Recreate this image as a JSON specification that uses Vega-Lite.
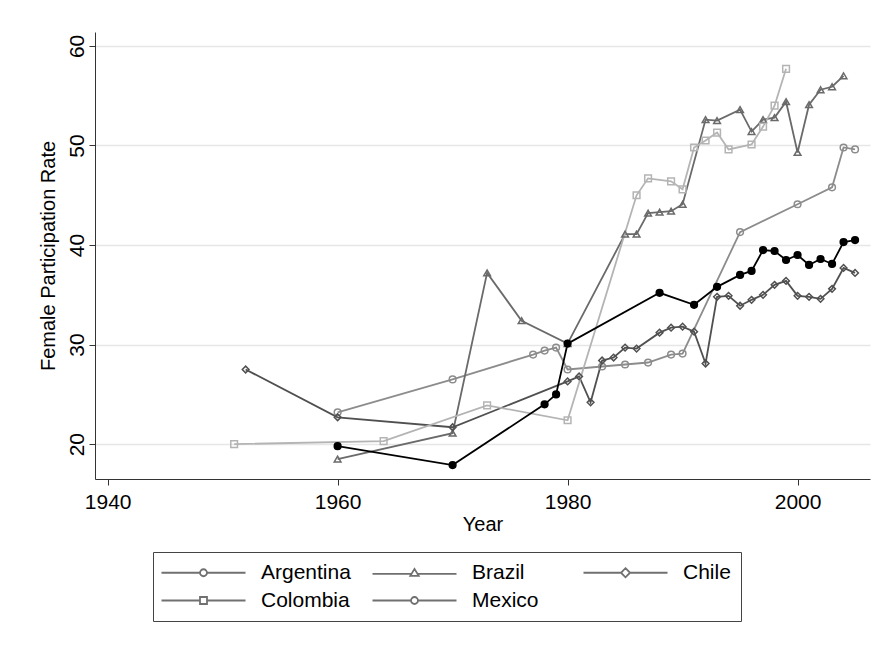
{"$schema":"https://vega.github.io/schema/vega-lite/v6.json","width":775,"height":447,"autosize":"none","padding":{"left":95,"top":32,"right":13,"bottom":170},"background":"white",
"config":{"font":"Liberation Sans","view":{"stroke":null},"axis":{"labelFont":"Liberation Sans","titleFont":"Liberation Sans","labelFontSize":21,"titleFontSize":20,"titleFontWeight":"normal","labelColor":"black","titleColor":"black","domainColor":"#333","tickColor":"#333","tickSize":6}},
"data":{"values":[
{"c":"Argentina","x":1960,"y":23.2},{"c":"Argentina","x":1970,"y":26.5},{"c":"Argentina","x":1977,"y":29.0},{"c":"Argentina","x":1978,"y":29.4},{"c":"Argentina","x":1979,"y":29.7},{"c":"Argentina","x":1980,"y":27.5},{"c":"Argentina","x":1983,"y":27.8},{"c":"Argentina","x":1985,"y":28.0},{"c":"Argentina","x":1987,"y":28.2},{"c":"Argentina","x":1989,"y":29.0},{"c":"Argentina","x":1990,"y":29.1},{"c":"Argentina","x":1995,"y":41.3},{"c":"Argentina","x":2000,"y":44.1},{"c":"Argentina","x":2003,"y":45.8},{"c":"Argentina","x":2004,"y":49.8},{"c":"Argentina","x":2005,"y":49.6},
{"c":"Brazil","x":1960,"y":18.5},{"c":"Brazil","x":1970,"y":21.1},{"c":"Brazil","x":1973,"y":37.2},{"c":"Brazil","x":1976,"y":32.4},{"c":"Brazil","x":1980,"y":30.1},{"c":"Brazil","x":1985,"y":41.1},{"c":"Brazil","x":1986,"y":41.1},{"c":"Brazil","x":1987,"y":43.2},{"c":"Brazil","x":1988,"y":43.3},{"c":"Brazil","x":1989,"y":43.4},{"c":"Brazil","x":1990,"y":44.1},{"c":"Brazil","x":1992,"y":52.6},{"c":"Brazil","x":1993,"y":52.5},{"c":"Brazil","x":1995,"y":53.6},{"c":"Brazil","x":1996,"y":51.4},{"c":"Brazil","x":1997,"y":52.6},{"c":"Brazil","x":1998,"y":52.8},{"c":"Brazil","x":1999,"y":54.4},{"c":"Brazil","x":2000,"y":49.3},{"c":"Brazil","x":2001,"y":54.1},{"c":"Brazil","x":2002,"y":55.6},{"c":"Brazil","x":2003,"y":55.9},{"c":"Brazil","x":2004,"y":57.0},
{"c":"Chile","x":1952,"y":27.5},{"c":"Chile","x":1960,"y":22.7},{"c":"Chile","x":1970,"y":21.7},{"c":"Chile","x":1980,"y":26.3},{"c":"Chile","x":1981,"y":26.8},{"c":"Chile","x":1982,"y":24.2},{"c":"Chile","x":1983,"y":28.4},{"c":"Chile","x":1984,"y":28.7},{"c":"Chile","x":1985,"y":29.7},{"c":"Chile","x":1986,"y":29.6},{"c":"Chile","x":1988,"y":31.2},{"c":"Chile","x":1989,"y":31.7},{"c":"Chile","x":1990,"y":31.8},{"c":"Chile","x":1991,"y":31.3},{"c":"Chile","x":1992,"y":28.1},{"c":"Chile","x":1993,"y":34.8},{"c":"Chile","x":1994,"y":34.9},{"c":"Chile","x":1995,"y":33.9},{"c":"Chile","x":1996,"y":34.5},{"c":"Chile","x":1997,"y":35.0},{"c":"Chile","x":1998,"y":36.0},{"c":"Chile","x":1999,"y":36.4},{"c":"Chile","x":2000,"y":34.9},{"c":"Chile","x":2001,"y":34.8},{"c":"Chile","x":2002,"y":34.6},{"c":"Chile","x":2003,"y":35.6},{"c":"Chile","x":2004,"y":37.7},{"c":"Chile","x":2005,"y":37.2},
{"c":"Colombia","x":1951,"y":20.0},{"c":"Colombia","x":1964,"y":20.3},{"c":"Colombia","x":1973,"y":23.9},{"c":"Colombia","x":1980,"y":22.4},{"c":"Colombia","x":1986,"y":45.0},{"c":"Colombia","x":1987,"y":46.7},{"c":"Colombia","x":1989,"y":46.4},{"c":"Colombia","x":1990,"y":45.6},{"c":"Colombia","x":1991,"y":49.8},{"c":"Colombia","x":1992,"y":50.5},{"c":"Colombia","x":1993,"y":51.3},{"c":"Colombia","x":1994,"y":49.6},{"c":"Colombia","x":1996,"y":50.1},{"c":"Colombia","x":1997,"y":51.9},{"c":"Colombia","x":1998,"y":54.0},{"c":"Colombia","x":1999,"y":57.7},
{"c":"Mexico","x":1960,"y":19.8},{"c":"Mexico","x":1970,"y":17.9},{"c":"Mexico","x":1978,"y":24.0},{"c":"Mexico","x":1979,"y":25.0},{"c":"Mexico","x":1980,"y":30.1},{"c":"Mexico","x":1988,"y":35.2},{"c":"Mexico","x":1991,"y":34.0},{"c":"Mexico","x":1993,"y":35.8},{"c":"Mexico","x":1995,"y":37.0},{"c":"Mexico","x":1996,"y":37.4},{"c":"Mexico","x":1997,"y":39.5},{"c":"Mexico","x":1998,"y":39.4},{"c":"Mexico","x":1999,"y":38.5},{"c":"Mexico","x":2000,"y":39.0},{"c":"Mexico","x":2001,"y":38.0},{"c":"Mexico","x":2002,"y":38.6},{"c":"Mexico","x":2003,"y":38.1},{"c":"Mexico","x":2004,"y":40.3},{"c":"Mexico","x":2005,"y":40.5}
]},
"encoding":{
"x":{"field":"x","type":"quantitative","title":"Year","scale":{"domain":[1938.9,2006.3],"nice":false,"zero":false},"axis":{"values":[1940,1960,1980,2000],"format":"d","grid":false,"titlePadding":2,"labelPadding":6}},
"y":{"field":"y","type":"quantitative","title":"Female Participation Rate","scale":{"domain":[16.5,61.4],"nice":false,"zero":false},"axis":{"values":[20,30,40,50,60],"grid":true,"gridColor":"#e6e6e6","gridWidth":1.5,"labelAngle":-90,"labelAlign":"center","labelBaseline":"bottom","titlePadding":8}},
"detail":{"field":"c"}},
"layer":[
{"mark":{"type":"line","strokeWidth":1.8},"encoding":{"color":{"field":"c","type":"nominal","scale":{"domain":["Argentina","Brazil","Chile","Colombia","Mexico"],"range":["#8c8c8c","#6a6a6a","#505050","#b4b4b4","#000000"]},"legend":null}}},
{"mark":{"type":"point","size":45,"strokeWidth":1.5,"opacity":1},
"encoding":{"color":{"field":"c","type":"nominal","legend":null},"shape":{"field":"c","type":"nominal","scale":{"domain":["Argentina","Brazil","Chile","Colombia","Mexico"],"range":["circle","triangle-up","diamond","square","circle"]},"legend":null},
"fill":{"field":"c","type":"nominal","scale":{"domain":["Argentina","Brazil","Chile","Colombia","Mexico"],"range":["transparent","transparent","transparent","transparent","#000000"]},"legend":null}}},
{"mark":{"type":"point","opacity":0,"color":"#707070"},
"encoding":{"shape":{"field":"c","type":"nominal","title":null,"scale":{"domain":["Argentina","Brazil","Chile","Colombia","Mexico"],"range":["M-12,0H-1 M1,0H12 M-1,0A1,1 0 1,0 1,0A1,1 0 1,0 -1,0","M-12,0.3H-0.75 M0.75,0.3H12 M0,-1.1L1.2,0.9H-1.2Z","M-12,0H-1.3 M1.3,0H12 M0,-1.3L1.3,0L0,1.3L-1.3,0Z","M-12,0H-1 M1,0H12 M-1,-1H1V1H-1Z","M-12,0H-1 M1,0H12 M-1,0A1,1 0 1,0 1,0A1,1 0 1,0 -1,0"]},
"legend":{"orient":"none","legendX":58,"legendY":520,"columns":3,"direction":"horizontal","labelFontSize":21,"labelFont":"Liberation Sans","labelColor":"black","symbolSize":49,"symbolStrokeWidth":1.8,"symbolStrokeColor":"#707070","symbolOpacity":1,"columnPadding":17,"rowPadding":6,"padding":10,"symbolOffset":30,"labelOffset":47,"strokeColor":"#444","labelLimit":200,"gridAlign":"all"}}}}
],
"resolve":{"scale":{"shape":"independent"}}}
